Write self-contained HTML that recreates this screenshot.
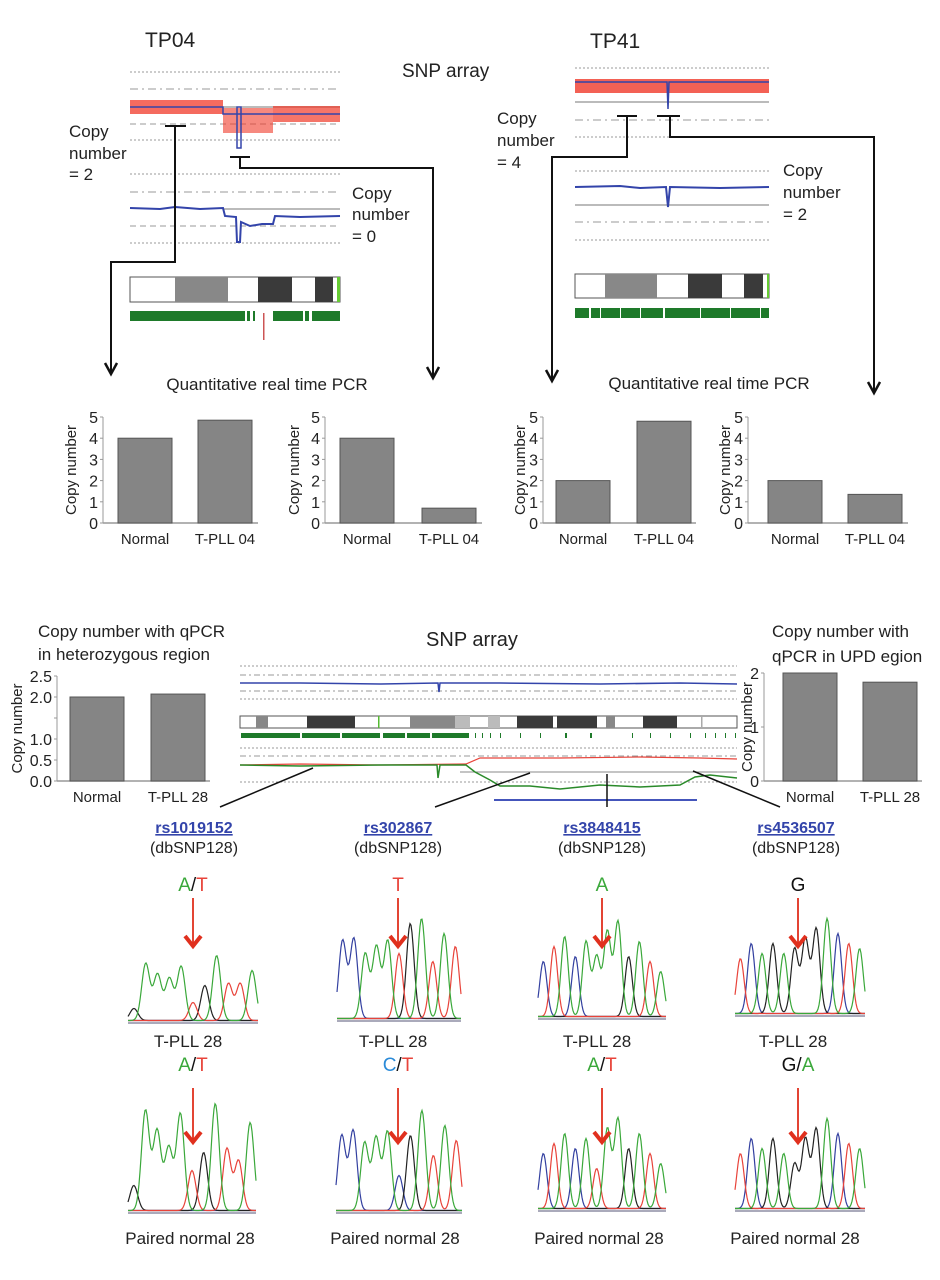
<!DOCTYPE html>
<html><head><meta charset="utf-8"><style>
html,body{margin:0;padding:0;background:#fff}
svg{display:block}
text{font-family:"Liberation Sans",sans-serif;fill:#222}
</style></head><body>
<svg id="fig" width="940" height="1280" viewBox="0 0 940 1280" xmlns="http://www.w3.org/2000/svg">
<defs>
<marker id="ah" markerWidth="16" markerHeight="16" refX="12" refY="7" orient="auto" markerUnits="userSpaceOnUse"><path d="M1,1 L12,7 L1,13" fill="none" stroke="#111" stroke-width="2.5"/></marker>
</defs>
<g id="top">
<text x="145" y="47" font-size="21">TP04</text>
<text x="590" y="48" font-size="21">TP41</text>
<text x="402" y="77" font-size="19">SNP array</text>
<g stroke="#999" stroke-width="1" fill="none">
<line x1="130" y1="72" x2="340" y2="72" stroke-dasharray="2,2"/>
<line x1="130" y1="89" x2="340" y2="89" stroke-dasharray="8,4,2,4"/>
<line x1="130" y1="124" x2="340" y2="124" stroke-dasharray="6,4"/>
<line x1="130" y1="140" x2="340" y2="140" stroke-dasharray="2,2"/>
<line x1="223" y1="107" x2="340" y2="107" stroke="#777"/>
</g>
<rect x="130" y="100" width="93" height="14" fill="#f03a2a" opacity="0.75"/>
<rect x="223" y="108" width="50" height="25" fill="#f03a2a" opacity="0.6"/>
<rect x="273" y="106" width="67" height="16" fill="#f03a2a" opacity="0.7"/>
<polyline points="130,107 223,107 223,114 340,114" fill="none" stroke="#3344aa" stroke-width="1.5"/>
<rect x="237" y="107" width="4" height="41" fill="none" stroke="#3344aa" stroke-width="1.5"/>
<g stroke="#999" stroke-width="1" fill="none">
<line x1="130" y1="174" x2="340" y2="174" stroke-dasharray="2,2"/>
<line x1="130" y1="192" x2="340" y2="192" stroke-dasharray="8,4,2,4"/>
<line x1="223" y1="209" x2="340" y2="209" stroke="#777"/>
<line x1="130" y1="226" x2="340" y2="226" stroke-dasharray="6,4"/>
<line x1="130" y1="243" x2="340" y2="243" stroke-dasharray="2,2"/>
</g>
<polyline points="130,208 160,209 175,207 200,209 223,208 225,216 236,217 237,242 240,242 241,222 250,226 262,224 273,224 275,216 300,217 340,216" fill="none" stroke="#3344aa" stroke-width="2"/>
<g>
<rect x="130" y="277" width="210" height="25" fill="#fff" stroke="#555"/>
<rect x="175" y="277" width="53" height="25" fill="#888"/>
<rect x="258" y="277" width="34" height="25" fill="#3a3a3a"/>
<rect x="315" y="277" width="18" height="25" fill="#3a3a3a"/>
<rect x="337" y="277" width="3" height="25" fill="#6c3"/>
</g>
<g fill="#1e7a2a">
<rect x="130" y="311" width="115" height="10"/><rect x="247" y="311" width="3" height="10"/><rect x="253" y="311" width="2" height="10"/>
<rect x="273" y="311" width="30" height="10"/><rect x="305" y="311" width="4" height="10"/><rect x="312" y="311" width="28" height="10"/>
<rect x="263" y="313" width="1.5" height="27" fill="#c55"/>
</g>
<text font-size="17"><tspan x="69" y="137">Copy</tspan><tspan x="69" y="159">number</tspan><tspan x="69" y="180">= 2</tspan></text>
<text font-size="17"><tspan x="352" y="199">Copy</tspan><tspan x="352" y="220">number</tspan><tspan x="352" y="242">= 0</tspan></text>
<g fill="none" stroke="#111" stroke-width="2">
<line x1="165" y1="126" x2="186" y2="126"/><polyline points="175,126 175,262 111,262 111,374" marker-end="url(#ah)"/>
<line x1="230" y1="157" x2="250" y2="157"/><polyline points="240,157 240,168 433,168 433,378" marker-end="url(#ah)"/>
</g>
<g stroke="#999" stroke-width="1" fill="none">
<line x1="575" y1="68" x2="769" y2="68" stroke-dasharray="2,2"/>
<line x1="575" y1="102" x2="769" y2="102" stroke="#777"/>
<line x1="575" y1="120" x2="769" y2="120" stroke-dasharray="8,4,2,4"/>
<line x1="575" y1="137" x2="769" y2="137" stroke-dasharray="2,2"/>
</g>
<rect x="575" y="79" width="194" height="14" fill="#f03a2a" opacity="0.8"/>
<polyline points="575,82 667,82 668,109 669,82 769,82" fill="none" stroke="#3344aa" stroke-width="1.5"/>
<g stroke="#999" stroke-width="1" fill="none">
<line x1="575" y1="171" x2="769" y2="171" stroke-dasharray="2,2"/>
<line x1="575" y1="205" x2="769" y2="205" stroke="#777"/>
<line x1="575" y1="222" x2="769" y2="222" stroke-dasharray="8,4,2,4"/>
<line x1="575" y1="240" x2="769" y2="240" stroke-dasharray="2,2"/>
</g>
<polyline points="575,187 620,186 640,188 666,187 668,207 670,187 720,188 769,187" fill="none" stroke="#3344aa" stroke-width="2"/>
<g>
<rect x="575" y="274" width="194" height="24" fill="#fff" stroke="#555"/>
<rect x="605" y="274" width="52" height="24" fill="#888"/>
<rect x="688" y="274" width="34" height="24" fill="#3a3a3a"/>
<rect x="744" y="274" width="19" height="24" fill="#3a3a3a"/>
<rect x="767" y="274" width="2" height="24" fill="#6c3"/>
</g>
<g fill="#1e7a2a">
<rect x="575" y="308" width="194" height="10"/>
<rect x="589" y="308" width="2" height="10" fill="#fff"/><rect x="600" y="308" width="1" height="10" fill="#fff"/><rect x="620" y="308" width="1" height="10" fill="#fff"/><rect x="640" y="308" width="1" height="10" fill="#fff"/><rect x="663" y="308" width="2" height="10" fill="#fff"/><rect x="700" y="308" width="1" height="10" fill="#fff"/><rect x="730" y="308" width="1" height="10" fill="#fff"/><rect x="760" y="308" width="1" height="10" fill="#fff"/>
</g>
<text font-size="17"><tspan x="497" y="124">Copy</tspan><tspan x="497" y="146">number</tspan><tspan x="497" y="168">= 4</tspan></text>
<text font-size="17"><tspan x="783" y="176">Copy</tspan><tspan x="783" y="198">number</tspan><tspan x="783" y="220">= 2</tspan></text>
<g fill="none" stroke="#111" stroke-width="2">
<line x1="617" y1="116" x2="637" y2="116"/><polyline points="627,116 627,157 552,157 552,381" marker-end="url(#ah)"/>
<line x1="657" y1="116" x2="680" y2="116"/><polyline points="670,116 670,137 874,137 874,393" marker-end="url(#ah)"/>
</g>
<text x="267" y="390" font-size="17" text-anchor="middle">Quantitative real time PCR</text>
<text x="709" y="389" font-size="17" text-anchor="middle">Quantitative real time PCR</text>
</g>
<g id="charts"></g>
<g id="mid">
<text font-size="17"><tspan x="38" y="637">Copy number with qPCR</tspan><tspan x="38" y="660">in heterozygous region</tspan></text>
<text font-size="17"><tspan x="772" y="637">Copy number with</tspan><tspan x="772" y="662">qPCR in UPD egion</tspan></text>
<text x="472" y="646" font-size="20" text-anchor="middle">SNP array</text>
<g stroke="#999" stroke-width="1" fill="none">
<line x1="240" y1="666" x2="737" y2="666" stroke-dasharray="2,2"/>
<line x1="240" y1="675" x2="737" y2="675" stroke-dasharray="6,3,2,3"/>
<line x1="240" y1="691" x2="737" y2="691" stroke-dasharray="6,3,2,3"/>
<line x1="240" y1="699" x2="737" y2="699" stroke-dasharray="2,2"/>
</g>
<polyline points="240,683 300,683 380,684 438,683 439,692 440,683 500,683 600,684 680,683 737,684" fill="none" stroke="#3344aa" stroke-width="1.5"/>
<g>
<rect x="240" y="716" width="497" height="12" fill="#fff" stroke="#555"/>
<rect x="256" y="716" width="12" height="12" fill="#888"/>
<rect x="307" y="716" width="48" height="12" fill="#3a3a3a"/>
<rect x="378" y="716" width="1.5" height="12" fill="#5b3"/>
<rect x="410" y="716" width="45" height="12" fill="#888"/>
<rect x="455" y="716" width="15" height="12" fill="#bbb"/>
<rect x="488" y="716" width="12" height="12" fill="#bbb"/>
<rect x="517" y="716" width="36" height="12" fill="#3a3a3a"/>
<rect x="557" y="716" width="40" height="12" fill="#3a3a3a"/>
<rect x="606" y="716" width="9" height="12" fill="#888"/>
<rect x="643" y="716" width="34" height="12" fill="#3a3a3a"/>
<rect x="701" y="716" width="1.5" height="12" fill="#aaa"/>
</g>
<g fill="#1e7a2a">
<rect x="241" y="733" width="228" height="5"/>
<rect x="300" y="733" width="2" height="5" fill="#fff"/><rect x="340" y="733" width="2" height="5" fill="#fff"/><rect x="380" y="733" width="3" height="5" fill="#fff"/><rect x="405" y="733" width="2" height="5" fill="#fff"/><rect x="430" y="733" width="2" height="5" fill="#fff"/>
<rect x="475" y="733" width="1" height="5"/><rect x="482" y="733" width="1" height="5"/><rect x="490" y="733" width="1" height="5"/><rect x="500" y="733" width="1" height="5"/><rect x="520" y="733" width="1" height="5"/><rect x="540" y="733" width="1" height="5"/><rect x="565" y="733" width="2" height="5"/><rect x="590" y="733" width="2" height="5"/><rect x="632" y="733" width="1" height="5"/><rect x="650" y="733" width="1" height="5"/><rect x="670" y="733" width="1" height="5"/><rect x="690" y="733" width="1" height="5"/><rect x="705" y="733" width="1" height="5"/><rect x="715" y="733" width="1" height="5"/><rect x="725" y="733" width="1" height="5"/><rect x="735" y="733" width="1" height="5"/>
</g>
<g stroke="#999" stroke-width="1" fill="none">
<line x1="240" y1="748" x2="737" y2="748" stroke-dasharray="2,2"/>
<line x1="240" y1="756" x2="737" y2="756" stroke-dasharray="6,3,2,3"/>
<line x1="460" y1="772" x2="737" y2="772" stroke="#888"/>
<line x1="240" y1="782" x2="737" y2="782" stroke-dasharray="2,2"/>
</g>
<polyline points="240,765 300,764 380,765 466,764 480,758 560,758 640,757 700,758 737,759" fill="none" stroke="#e8433a" stroke-width="1.2"/>
<polyline points="240,765 300,766 380,765 437,765 438,778 440,765 466,765 475,772 490,780 500,786 530,786 560,789 600,785 640,787 680,785 695,777 710,775 737,778" fill="none" stroke="#2a8a2a" stroke-width="1.5"/>
<line x1="494" y1="800" x2="697" y2="800" stroke="#4455bb" stroke-width="2"/>
<g stroke="#111" stroke-width="1.5">
<line x1="313" y1="768" x2="220" y2="807"/><line x1="530" y1="773" x2="435" y2="807"/>
<line x1="607" y1="774" x2="607" y2="807"/><line x1="693" y1="771" x2="780" y2="807"/>
</g>
<g font-size="16" text-anchor="middle">
<text x="194" y="833" font-weight="bold" style="fill:#3344aa" text-decoration="underline">rs1019152</text>
<text x="398" y="833" font-weight="bold" style="fill:#3344aa" text-decoration="underline">rs302867</text>
<text x="602" y="833" font-weight="bold" style="fill:#3344aa" text-decoration="underline">rs3848415</text>
<text x="796" y="833" font-weight="bold" style="fill:#3344aa" text-decoration="underline">rs4536507</text>
<text x="194" y="853">(dbSNP128)</text>
<text x="398" y="853">(dbSNP128)</text>
<text x="602" y="853">(dbSNP128)</text>
<text x="796" y="853">(dbSNP128)</text>
</g>
</g>
<g id="chroma"></g>
</svg>
<script>
const qCats = ["Normal", "T-PLL 04"];
const qTicks = [0, 1, 2, 3, 4, 5];
const qVals1 = [4, 4.85];
const qVals2 = [4, 0.7];
const qVals3 = [2, 4.8];
const qVals4 = [2, 1.35];
const hetCats = ["Normal", "T-PLL 28"];
const hetTicks = [0, 0.5, 1.0, 1.5, 2.0, 2.5];
const hetTickLabels = ["0.0", "0.5", "1.0", "", "2.0", "2.5"];
const hetVals = [2.0, 2.07];
const updTicks = [0, 1, 2];
const updVals = [2.0, 1.83];

const chromColors1a = ["k","g","g","g","g","r","k","g","r","r","g"];
const chromHeights1a = [12,57,46,42,54,18,35,65,37,37,50];
const chromColors1b = ["k","g","g","g","g","r","k","g","r","r","g"];
const chromHeights1b = [25,100,80,63,97,40,58,107,62,50,88];
const chromColors2a = ["b","b","g","g","g","r","k","g","r","g","r"];
const chromHeights2a = [78,80,65,72,78,65,95,100,57,85,72];
const chromColors2b = ["b","b","g","g","g","b","k","g","r","g","r"];
const chromHeights2b = [75,80,68,73,79,35,75,100,55,85,70];
const chromColors3a = ["b","r","g","b","g","g","g","g","k","g","r","g"];
const chromHeights3a = [55,70,80,60,75,60,85,95,60,75,55,45];
const chromColors3b = ["b","r","g","b","g","r","g","g","k","g","r","g"];
const chromHeights3b = [55,65,75,60,70,40,80,90,60,75,55,45];
const chromColors4a = ["r","b","g","k","g","k","k","k","g","b","r","g"];
const chromHeights4a = [55,70,60,70,60,65,75,85,95,80,70,65];
const chromColors4b = ["r","b","g","k","g","k","k","k","g","b","r","g"];
const chromHeights4b = [55,70,60,70,55,45,70,80,90,75,65,60];

const NS = "http://www.w3.org/2000/svg";
function mk(parent, tag, attrs, txt) {
  const e = document.createElementNS(NS, tag);
  for (const k in attrs) e.setAttribute(k, attrs[k]);
  if (txt !== undefined) e.textContent = txt;
  parent.appendChild(e);
  return e;
}
const charts = document.getElementById("charts");

function barChart(name, axisX, y0, unitPx, ticks, tickLabels, cats, vals, firstOff, spacing, xEnd, ylabX) {
  const g = mk(charts, "g", {});
  
  
  const yS = v => y0 - v * unitPx;
  const xS = i => axisX + firstOff + i * spacing;
  const bw = 54;
  const maxT = ticks[ticks.length - 1];
  const ax = mk(g, "line", {x1: axisX, y1: yS(maxT), x2: axisX, y2: y0, stroke: "#999", "stroke-width": 1});
  
  
  const xa = mk(g, "line", {x1: axisX, y1: y0, x2: xEnd, y2: y0, stroke: "#999", "stroke-width": 1.5});
  
  
  ticks.forEach((t, i) => {
    mk(g, "line", {x1: axisX - 3, y1: yS(t), x2: axisX, y2: yS(t), stroke: "#999"});
    const lbl = mk(g, "text", {x: axisX - 5, y: yS(t) + 6, "font-size": 16, "text-anchor": "end"}, tickLabels[i]);
    
    
  });
  vals.forEach((v, i) => {
    const r = mk(g, "rect", {x: xS(i), y: yS(v), width: bw, height: y0 - yS(v), fill: "#858585", stroke: "#555", "stroke-width": 1});
    
    
    const t = mk(g, "text", {x: xS(i) + bw / 2, y: y0 + 21, "font-size": 15, "text-anchor": "middle"}, cats[i]);
    
    
  });
  const yl = mk(g, "text", {x: 0, y: 0, "font-size": 15, "text-anchor": "middle", transform: "translate(" + ylabX + "," + (yS(maxT) + y0) / 2 + ") rotate(-90)"}, "Copy number");
  
  
}
const qLabels = qTicks.map(String);
barChart("qpcr-chart-tp04-gain", 103, 523, 21.2, qTicks, qLabels, qCats, qVals1, 15, 80, 258, 76);
barChart("qpcr-chart-tp04-loss", 325, 523, 21.2, qTicks, qLabels, qCats, qVals2, 15, 82, 482, 299);
barChart("qpcr-chart-tp41-gain", 543, 523, 21.2, qTicks, qLabels, qCats, qVals3, 13, 81, 696, 525);
barChart("qpcr-chart-tp41-normal", 748, 523, 21.2, qTicks, qLabels, qCats, qVals4, 20, 80, 908, 730);
barChart("het-qpcr-chart", 57, 781, 42, hetTicks, hetTickLabels, hetCats, hetVals, 13, 81, 210, 22);
barChart("upd-qpcr-chart", 764, 781, 54, updTicks, updTicks.map(String), hetCats, updVals, 19, 80, 922, 752);

const chroma = document.getElementById("chroma");
const colMap = {g: "#3aa83a", r: "#e8433a", b: "#3340a0", k: "#222"};
function chromatogram(name, x0, x1, base, colors, heights) {
  const g = mk(chroma, "g", {});
  
  
  const n = heights.length, sp = (x1 - x0) / n, sig = sp * 0.34;
  const bl = mk(g, "line", {x1: x0, y1: base + 1, x2: x1, y2: base + 1, stroke: "#aab", "stroke-width": 2});
  
  
  ["b", "k", "r", "g"].forEach(c => {
    let d = "";
    for (let x = x0; x <= x1; x += 1) {
      let y = 1.5;
      heights.forEach((h, i) => {
        if (colors[i] === c) {
          const cx = x0 + (i + 0.5) * sp;
          y += h * Math.exp(-((x - cx) * (x - cx)) / (2 * sig * sig));
        }
      });
      d += (x === x0 ? "M" : "L") + x + "," + (base - y).toFixed(1);
    }
    const p = mk(g, "path", {d: d, fill: "none", stroke: colMap[c], "stroke-width": 1.2});
    
    
  });
}
chromatogram("chrom-rs1019152-tumor", 128, 258, 1022, chromColors1a, chromHeights1a);
chromatogram("chrom-rs1019152-normal", 128, 256, 1212, chromColors1b, chromHeights1b);
chromatogram("chrom-rs302867-tumor", 337, 461, 1020, chromColors2a, chromHeights2a);
chromatogram("chrom-rs302867-normal", 336, 462, 1212, chromColors2b, chromHeights2b);
chromatogram("chrom-rs3848415-tumor", 538, 666, 1018, chromColors3a, chromHeights3a);
chromatogram("chrom-rs3848415-normal", 538, 666, 1210, chromColors3b, chromHeights3b);
chromatogram("chrom-rs4536507-tumor", 735, 865, 1015, chromColors4a, chromHeights4a);
chromatogram("chrom-rs4536507-normal", 735, 865, 1210, chromColors4b, chromHeights4b);

const colsX = [193, 398, 602, 798];
const topAlleles = [[["A","g"],["/","k"],["T","r"]], [["T","r"]], [["A","g"]], [["G","k"]]];
const botAlleles = [[["A","g"],["/","k"],["T","r"]], [["C","c"],["/","k"],["T","r"]], [["A","g"],["/","k"],["T","r"]], [["G","k"],["/","k"],["A","g"]]];
const allColor = {g: "#3aa83a", r: "#e8433a", k: "#111", c: "#2a8ad8"};
function allele(x, y, parts, name) {
  const t = mk(chroma, "text", {x: x, y: y, "font-size": 19, "text-anchor": "middle"});
  
  
  parts.forEach(p => { mk(t, "tspan", {style: "fill:" + allColor[p[1]]}, p[0]); });
}
function arrow(x, y1, y2, name) {
  const g = mk(chroma, "g", {fill: "none", stroke: "#e0301e", "stroke-width": 3});
  
  
  mk(g, "line", {x1: x, y1: y1, x2: x, y2: y2, "stroke-width": 1.8});
  mk(g, "polyline", {points: (x - 8) + "," + (y2 - 10) + " " + x + "," + y2 + " " + (x + 8) + "," + (y2 - 10), "stroke-width": 4});
}
colsX.forEach((x, i) => {
  allele(x, 891, topAlleles[i], "tumor-allele-" + (i + 1));
  arrow(x, 898, 946, "tumor-snp-arrow-" + (i + 1));
  const c1 = mk(chroma, "text", {x: x - 5, y: 1047, "font-size": 17, "text-anchor": "middle"}, "T-PLL 28");
  
  
  allele(x, 1071, botAlleles[i], "normal-allele-" + (i + 1));
  arrow(x, 1088, 1142, "normal-snp-arrow-" + (i + 1));
  const c2 = mk(chroma, "text", {x: x - 3, y: 1244, "font-size": 17, "text-anchor": "middle"}, "Paired normal 28");
  
  
});
</script>
</body></html>
